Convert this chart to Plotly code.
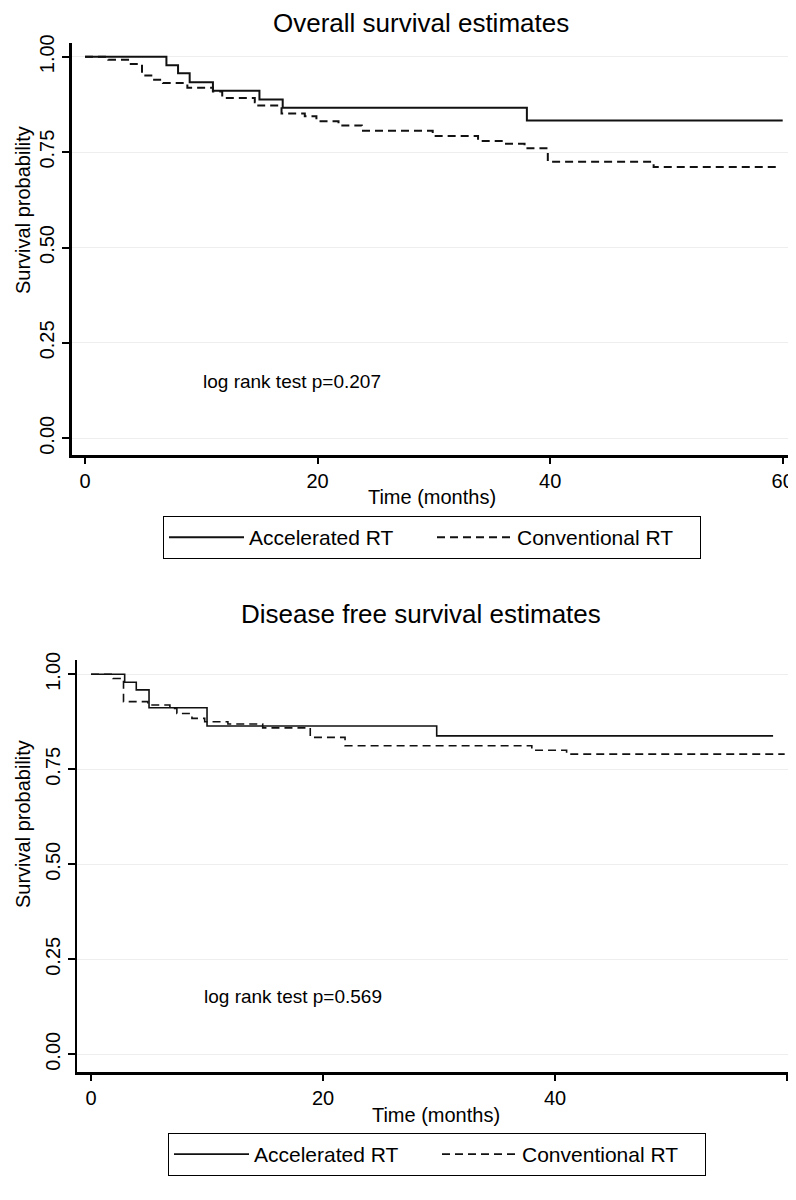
import plotly.graph_objects as go

# ---------------- data ----------------
# Overall survival
os_acc_t = [0, 7, 8, 9, 11, 15, 17, 38, 60]
os_acc_s = [1.0, 0.978, 0.957, 0.933, 0.911, 0.888, 0.866, 0.833, 0.833]

os_conv_t = [0, 2.0, 3.7, 4.9, 5.7, 6.7, 8.8, 11.0, 11.8, 14.6, 14.9, 16.9, 18.9, 19.9,
             21.8, 23.8, 29.9, 33.8, 36.0, 37.8, 39.8, 48.9, 59.6]
os_conv_s = [1.0, 0.992, 0.981, 0.951, 0.940, 0.931, 0.919, 0.909, 0.892, 0.881, 0.872, 0.851,
             0.844, 0.831, 0.820, 0.806, 0.792, 0.779, 0.772, 0.760, 0.725, 0.711, 0.711]

# Disease free survival
dfs_acc_t = [0, 2.9, 3.9, 5.0, 10.0, 29.8, 58.8]
dfs_acc_s = [1.0, 0.979, 0.959, 0.912, 0.864, 0.838, 0.838]

dfs_conv_t = [0, 1.9, 2.8, 4.9, 6.8, 7.4, 8.7, 9.8, 11.8, 14.8, 18.9, 21.9, 38.0, 41.0, 59.8]
dfs_conv_s = [1.0, 0.989, 0.928, 0.919, 0.910, 0.897, 0.884, 0.875, 0.869, 0.859, 0.834,
              0.812, 0.800, 0.790, 0.790]

series_names = ["Accelerated RT", "Conventional RT"]
x_ticks = [0, 20, 40, 60]
y_ticks = [0, 0.25, 0.5, 0.75, 1.0]
y_tick_text = ["0.00", "0.25", "0.50", "0.75", "1.00"]
titles = ["Overall survival estimates", "Disease free survival estimates"]
pvalue_text = ["log rank test p=0.207", "log rank test p=0.569"]
x_title = "Time (months)"
y_title = "Survival probability"

# ---------------- figure ----------------
# the page body has an 8px margin, so the figure is drawn from (8, 8)
OFF = 8
W, H = 788, 1192
FONT = "Liberation Sans, Arial, sans-serif"

def px_x(p):
    return (p - OFF) / W

def px_y(p):
    return 1 - (p - OFF) / H

fig = go.Figure()

fig.add_trace(go.Scatter(x=os_acc_t, y=os_acc_s, mode="lines", line_shape="hv",
                         name=series_names[0], legend="legend",
                         line=dict(color="#111111", width=2), xaxis="x", yaxis="y"))
fig.add_trace(go.Scatter(x=os_conv_t, y=os_conv_s, mode="lines", line_shape="hv",
                         name=series_names[1], legend="legend",
                         line=dict(color="#111111", width=2, dash="8px,5px"), xaxis="x", yaxis="y"))
fig.add_trace(go.Scatter(x=dfs_acc_t, y=dfs_acc_s, mode="lines", line_shape="hv",
                         name=series_names[0], legend="legend2",
                         line=dict(color="#111111", width=1.6), xaxis="x2", yaxis="y2"))
fig.add_trace(go.Scatter(x=dfs_conv_t, y=dfs_conv_s, mode="lines", line_shape="hv",
                         name=series_names[1], legend="legend2",
                         line=dict(color="#111111", width=1.6, dash="8px,5px"), xaxis="x2", yaxis="y2"))

xcommon = dict(tickmode="array", tickvals=x_ticks, ticks="outside", ticklen=6, tickwidth=1.5,
               tickcolor="black", showline=True, linecolor="black", showgrid=False,
               zeroline=False, automargin=False,
               tickfont=dict(size=20, color="black", family=FONT))
ycommon = dict(tickmode="array", tickvals=y_ticks, ticktext=y_tick_text, ticks="outside",
               ticklen=7, tickwidth=1.5, tickcolor="black", showline=True, linecolor="black",
               showgrid=True, gridcolor="#eeeeee", gridwidth=1, zeroline=False, tickangle=-90,
               automargin=False, tickfont=dict(size=20, color="black", family=FONT))

legend_common = dict(orientation="h", xanchor="center", yanchor="top",
                     bordercolor="black", borderwidth=1, font=dict(size=21, family=FONT),
                     itemwidth=75, entrywidthmode="pixels", entrywidth=178, bgcolor="white")

fig.update_layout(
    width=W, height=H,
    margin=dict(l=0, r=0, t=0, b=0, autoexpand=False),
    paper_bgcolor="white", plot_bgcolor="white",
    font=dict(family=FONT, color="black"),
    xaxis=dict(xcommon, domain=[px_x(72), px_x(792)], range=[-1.12, 60.8], anchor="y",
               linewidth=2.5,
               title=dict(text=x_title, font=dict(size=20), standoff=0)),
    yaxis=dict(ycommon, domain=[px_y(455), px_y(43)], range=[-0.0438, 1.036], anchor="x",
               linewidth=2.5),
    xaxis2=dict(xcommon, domain=[px_x(77), px_x(795)], range=[-1.21, 60.69], anchor="y2",
                linewidth=3,
                title=dict(text=x_title, font=dict(size=20), standoff=0)),
    yaxis2=dict(ycommon, domain=[px_y(1072), px_y(660)], range=[-0.0466, 1.0376], anchor="x2",
                linewidth=2),
    legend=dict(legend_common, x=px_x(432), y=px_y(516)),
    legend2=dict(legend_common, x=px_x(437), y=px_y(1133)),
    showlegend=True,
)

annotations = [
    dict(text=titles[0], x=px_x(421), y=px_y(23), xref="paper", yref="paper",
         showarrow=False, font=dict(size=26), xanchor="center", yanchor="middle"),
    dict(text=titles[1], x=px_x(421), y=px_y(614), xref="paper", yref="paper",
         showarrow=False, font=dict(size=26), xanchor="center", yanchor="middle"),
    dict(text=y_title, x=px_x(23), y=px_y(210), xref="paper", yref="paper", textangle=-90,
         showarrow=False, font=dict(size=20), xanchor="center", yanchor="middle"),
    dict(text=y_title, x=px_x(23), y=px_y(824), xref="paper", yref="paper", textangle=-90,
         showarrow=False, font=dict(size=20), xanchor="center", yanchor="middle"),
    dict(text=pvalue_text[0], x=10.0, y=0.15, xref="x", yref="y", showarrow=False,
         font=dict(size=19), xanchor="left", yanchor="middle"),
    dict(text=pvalue_text[1], x=9.6, y=0.153, xref="x2", yref="y2", showarrow=False,
         font=dict(size=19), xanchor="left", yanchor="middle"),
]
fig.update_layout(annotations=annotations)

fig.write_html("out.html")
